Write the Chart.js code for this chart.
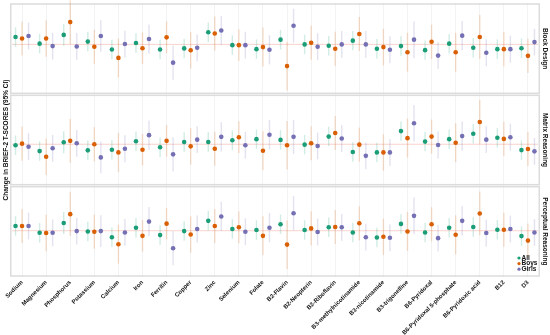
<!DOCTYPE html>
<html lang="en">
<head>
<meta charset="UTF-8">
<title>Change in BRIEF-2 T-scores by nutrient</title>
<style>
  html, body { margin: 0; padding: 0; background: #fff; }
  #wrap { width: 550px; height: 335px; }
</style>
</head>
<body>
<div id="wrap"><canvas id="nutrientChart" width="550" height="335"></canvas></div>

<script src="https://cdn.jsdelivr.net/npm/chart.js"></script>
<script>
// categories and groups
var nutrients = ['Sodium', 'Magnesium', 'Phosphorus', 'Potassium', 'Calcium', 'Iron', 'Ferritin',
  'Copper', 'Zinc', 'Selenium', 'Folate', 'B2-Flavin', 'B2-Neopterin', 'B2-Riboflavin',
  'B3-methylnicotinamide', 'B3-nicotinamide', 'B3-trigonelline', 'B6-Pyridoxal',
  'B6-Pyridoxal 5-phosphate', 'B6-Pyridoxic acid', 'B12', 'D3'];
var outcomes = ['Block Design', 'Matrix Reasoning', 'Perceptual Reasoning'];
var groups = ['All', 'Boys', 'Girls'];
var colors = ['#1b9e77', '#d95f02', '#7570b3'];
var barColors = ['rgba(27,158,119,0.2)', 'rgba(217,95,2,0.2)', 'rgba(117,112,179,0.2)'];

// estimates (change in T-score)
var blockAll   = [0.61, 0.06, 0.78, 0.23, -0.42, 0.11, -0.42, -0.33, 1.0, -0.06, -0.39, 0.39, 0, -0.11, 0.31, -0.36, -0.14, -0.47, 0.06, -0.28, -0.39, -0.31];
var blockBoys  = [0.48, 0.48, 1.83, -0.19, -1.11, -0.31, 0.58, -0.48, 0.89, -0.06, -0.22, -1.78, 0.14, -0.36, 0.86, -0.22, -0.64, 0.22, -0.64, 0.61, -0.39, -0.94];
var blockGirls = [0.69, -0.14, -0.17, 0.69, 0.03, 0.44, -1.5, -0.28, 1.14, -0.06, -0.44, 1.53, -0.19, 0, 0, -0.44, 0.39, -0.92, 0.72, -0.69, -0.39, 0.19];

var matrixAll   = [-0.08, -0.56, 0.17, -0.5, -0.45, 0.25, -0.25, 0.19, 0.19, 0.33, 0.42, 0.36, -0.03, 0.63, -0.64, -0.67, 1.08, 0.22, 0.42, 0.86, 0.53, -0.48];
var matrixBoys  = [0.05, -1.03, 0.28, 0, -0.67, -0.45, 0.28, -0.17, -0.37, 0.58, -0.53, -0.08, 0.08, 0.92, -0.03, -0.67, 0.5, 0.63, 0.13, 1.83, 0.44, -0.39];
var matrixGirls = [-0.2, -0.33, 0.08, -1.08, -0.37, 0.75, -0.83, 0.38, 0.61, -0.08, 0.78, 0.61, -0.14, 0.47, -0.95, -0.67, 1.72, -0.06, 0.67, 0.38, 0.58, -0.58];

var percAll   = [0.39, -0.17, 0.64, -0.06, -0.53, 0.25, -0.36, -0.03, 0.81, 0.14, 0.06, 0.53, 0.06, 0.28, -0.14, -0.56, 0.56, -0.14, 0.25, 0.31, 0.08, -0.44];
var percBoys  = [0.39, -0.19, 1.36, -0.08, -1.11, -0.42, 0.58, -0.31, 0.39, 0.28, -0.42, -1.14, 0.19, 0.31, 0.61, -0.5, -0.06, 0.53, -0.33, 1.42, 0.08, -0.81];
var percGirls = [0.39, -0.17, -0.03, -0.03, -0.14, 0.75, -1.44, 0.14, 1.17, -0.08, 0.25, 1.44, -0.11, 0.28, -0.53, -0.58, 1.22, -0.61, 0.81, -0.19, 0.14, -0.14];

// half width of the 95% CI for each group
var ciAll   = [0.8, 0.8, 0.9, 0.8, 0.8, 0.8, 0.8, 0.8, 0.8, 0.8, 0.8, 0.8, 0.8, 0.8, 0.8, 0.8, 0.8, 0.8, 0.8, 0.8, 0.8, 0.8];
var ciBoys  = [1.4, 1.5, 1.8, 1.4, 1.6, 1.3, 1.3, 1.5, 1.4, 1.3, 1.6, 2.0, 1.4, 1.4, 1.4, 1.5, 1.6, 1.4, 1.6, 1.8, 1.4, 1.4];
var ciGirls = [1.1, 1.1, 1.1, 1.3, 1.1, 1.2, 1.4, 1.1, 1.2, 1.1, 1.2, 1.4, 1.1, 1.1, 1.1, 1.1, 1.5, 1.1, 1.2, 1.1, 1.1, 1.1];

var panelValues = [
  [blockAll, blockBoys, blockGirls],
  [matrixAll, matrixBoys, matrixGirls],
  [percAll, percBoys, percGirls]
];
var ciWidths = [ciAll, ciBoys, ciGirls];
var axisIds = ['yBD', 'yMR', 'yPR'];
var dodge = [-0.27, 0, 0.27];

var datasets = [];
panelValues.forEach(function (panel, p) {
  panel.forEach(function (vals, g) {
    datasets.push({
      label: groups[g] + ' - ' + outcomes[p],
      group: g,
      yAxisID: axisIds[p],
      data: vals.map(function (v, i) {
        return { x: i + dodge[g], y: v, lo: v - ciWidths[g][i], hi: v + ciWidths[g][i] };
      }),
      backgroundColor: colors[g],
      borderWidth: 0,
      pointRadius: 2.3,
      pointHoverRadius: 2.3
    });
  });
});

// panel frames, zero lines and CI whiskers
var panelPlugin = {
  id: 'panels',
  beforeDatasetsDraw: function (chart) {
    var ctx = chart.ctx, area = chart.chartArea, xs = chart.scales.x;
    ctx.save();
    axisIds.forEach(function (id) {
      var s = chart.scales[id];
      ctx.strokeStyle = '#dcdcdc';
      ctx.lineWidth = 1.5;
      ctx.strokeRect(area.left + 0.75, s.top + 1, area.right - area.left - 1.5, s.bottom - s.top - 2);
      var z = s.getPixelForValue(0);
      ctx.strokeStyle = 'rgba(235,130,110,0.35)';
      ctx.lineWidth = 1;
      ctx.beginPath();
      ctx.moveTo(area.left + 2, z);
      ctx.lineTo(area.right - 2, z);
      ctx.stroke();
    });
    chart.data.datasets.forEach(function (ds) {
      var s = chart.scales[ds.yAxisID];
      ctx.strokeStyle = barColors[ds.group];
      ctx.lineWidth = 1.4;
      ds.data.forEach(function (d) {
        var px = xs.getPixelForValue(d.x);
        ctx.beginPath();
        ctx.moveTo(px, s.getPixelForValue(d.lo));
        ctx.lineTo(px, s.getPixelForValue(d.hi));
        ctx.stroke();
      });
    });
    ctx.restore();
  },
  afterDraw: function (chart) {
    var ctx = chart.ctx, area = chart.chartArea;
    ctx.save();
    ctx.fillStyle = '#111';
    ctx.font = 'bold 6.5px "Liberation Sans", Arial, sans-serif';
    ctx.textAlign = 'center';
    ctx.textBaseline = 'middle';
    axisIds.forEach(function (id, p) {
      var s = chart.scales[id];
      ctx.save();
      ctx.translate(area.right + 5, (s.top + s.bottom) / 2);
      ctx.rotate(Math.PI / 2);
      ctx.fillText(outcomes[p], 0, 0);
      ctx.restore();
    });
    // legend in the bottom panel
    var bottom = chart.scales.yPR.bottom;
    ctx.textAlign = 'left';
    groups.forEach(function (g, i) {
      var y = bottom - 19 + i * 5.6;
      ctx.fillStyle = colors[i];
      ctx.beginPath();
      ctx.arc(area.right - 21, y, 1.6, 0, Math.PI * 2);
      ctx.fill();
      ctx.fillStyle = '#111';
      ctx.fillText(g, area.right - 18.5, y);
    });
    ctx.restore();
  }
};

function yAxis(min, max, withTitle) {
  return {
    type: 'linear',
    position: 'left',
    stack: 'panels',
    stackWeight: 1,
    min: min,
    max: max,
    ticks: { display: false },
    grid: { display: false },
    border: { display: false },
    title: {
      display: withTitle,
      text: 'Change in BRIEF-2 T-SCORES (95% CI)',
      color: '#111',
      font: { family: '"Liberation Sans", Arial, sans-serif', size: 6.5, weight: 'bold' },
      padding: { top: 2, bottom: 0 }
    },
    afterFit: function (s) { s.width = 10; }
  };
}

var chart = new Chart(document.getElementById('nutrientChart'), {
  type: 'scatter',
  data: { datasets: datasets },
  plugins: [panelPlugin],
  options: {
    responsive: false,
    animation: false,
    devicePixelRatio: 1,
    layout: { padding: { left: 0, right: 10, top: 3, bottom: 0 } },
    plugins: {
      legend: { display: false },
      tooltip: { enabled: false }
    },
    scales: {
      x: {
        type: 'linear',
        min: -0.5,
        max: nutrients.length - 0.5,
        afterBuildTicks: function (s) {
          s.ticks = nutrients.map(function (n, i) { return { value: i }; });
        },
        ticks: {
          autoSkip: false,
          minRotation: 45,
          maxRotation: 45,
          padding: 2,
          color: '#111',
          font: { family: '"Liberation Sans", Arial, sans-serif', size: 6, weight: 'bold' },
          callback: function (v) { return nutrients[v]; }
        },
        grid: { color: '#f0f0f0', lineWidth: 0.8, drawTicks: false },
        border: { display: false },
        afterFit: function (s) { s.height = 58; }
      },
      yPR: yAxis(-3.8, 3.7, false),
      yMR: yAxis(-3.4, 4.1, true),
      yBD: yAxis(-4.1, 3.4, false)
    }
  }
});
</script>
</body>
</html>
